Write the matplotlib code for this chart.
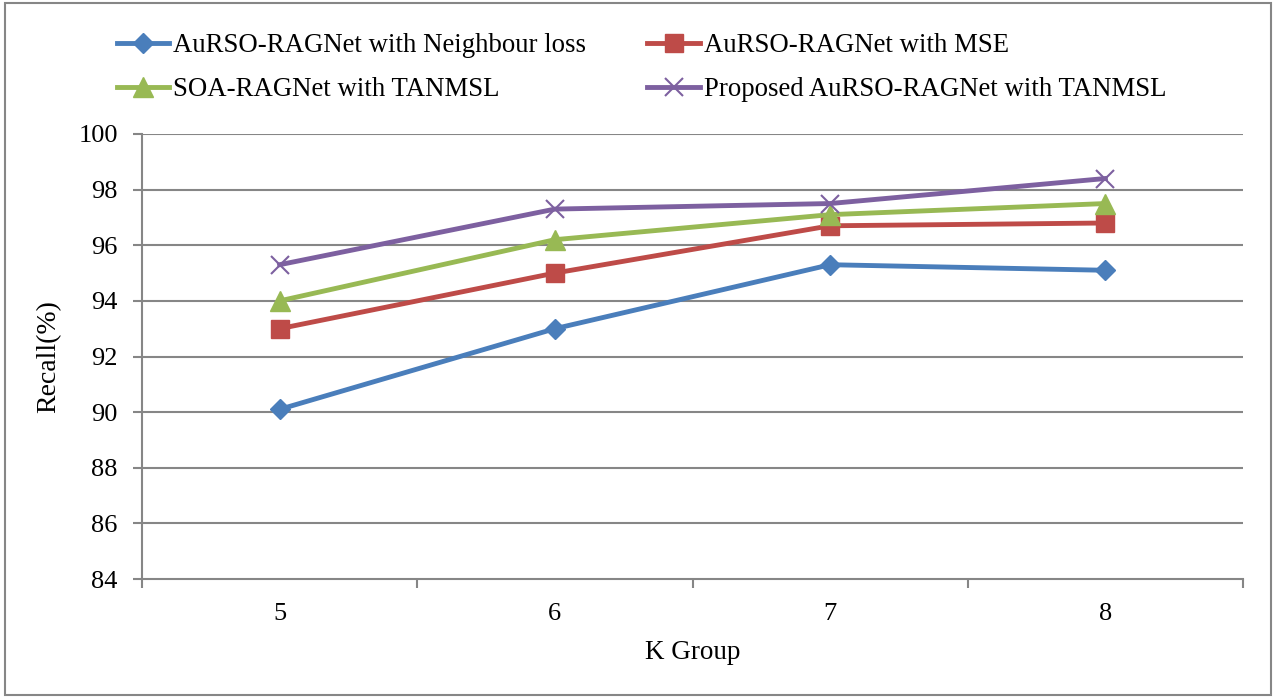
import numpy as np
import matplotlib
matplotlib.use('Agg')
import matplotlib.pyplot as plt
from matplotlib.patches import Rectangle

plt.rcParams['font.family'] = ['Liberation Serif', 'DejaVu Serif']

# data
k_groups = ['5', '6', '7', '8']
neighbour = [90.1, 93.0, 95.3, 95.1]
mse = [93.0, 95.0, 96.7, 96.8]
soa = [94.0, 96.2, 97.1, 97.5]
proposed = [95.3, 97.3, 97.5, 98.4]

labels = ['AuRSO-RAGNet with Neighbour loss', 'AuRSO-RAGNet with MSE',
          'SOA-RAGNet with TANMSL', 'Proposed AuRSO-RAGNet with TANMSL']

fig = plt.figure(figsize=(12.76, 6.98), dpi=100)
ax = fig.add_axes([142 / 1276, 1 - 579 / 698, (1243 - 142) / 1276, (579 - 134) / 698])

x = np.arange(1, len(k_groups) + 1)
grid_c = '#868686'

# grid first so lines sit on top
for yv in np.arange(86, 101, 2):
    ax.axhline(yv, color=grid_c, lw=1.5, zorder=1)

l1, = ax.plot(x, neighbour, color='#4A7EBB', lw=3.5, marker='D', ms=10, label=labels[0], zorder=3)
l2, = ax.plot(x, mse, color='#BE4B48', lw=3.5, marker='s', ms=13, label=labels[1], zorder=3)
l3, = ax.plot(x, soa, color='#98B954', lw=3.5, marker='^', ms=14, label=labels[2], zorder=3)
l4, = ax.plot(x, proposed, color='#7D60A0', lw=3.5, marker='x', ms=13, mew=1.5, label=labels[3], zorder=3)

ax.set_xlim(0.5, 4.5)
ax.set_ylim(84, 100)
ax.set_yticks(np.arange(84, 101, 2))
ax.set_xticks(np.arange(0.5, 4.6, 1))
ax.set_xticklabels([])
ax.set_xticks(x, minor=True)
ax.set_xticklabels(k_groups, minor=True)
ax.tick_params(axis='x', which='minor', length=0, pad=17, labelsize=19)
ax.tick_params(axis='x', which='major', length=6.5, width=1.5, color=grid_c)
ax.tick_params(axis='y', length=6.5, width=1.5, color=grid_c, labelsize=19, pad=11)

for s in ['top', 'right']:
    ax.spines[s].set_visible(False)
for s in ['left', 'bottom']:
    ax.spines[s].set_color(grid_c)
    ax.spines[s].set_linewidth(1.5)

ax.set_xlabel('K Group', fontsize=19.5, labelpad=11)
ax.set_ylabel('Recall(%)', fontsize=20, labelpad=12)

# legend fills column by column, so order gives rows like the original
fig.legend([l1, l3, l2, l4], [labels[0], labels[2], labels[1], labels[3]],
           loc='upper left', bbox_to_anchor=(117 / 1276, 1 - 33 / 698), ncol=2,
           frameon=False, fontsize=19.3, handlelength=1.95, handletextpad=0.15,
           columnspacing=2.28, labelspacing=0.72, borderpad=0, borderaxespad=0)

# outer border of the chart
fig.patches.append(Rectangle((5 / 1276, 3 / 698), 1266 / 1276, 692 / 698,
                             transform=fig.transFigure, fill=False,
                             edgecolor='#868686', lw=1.5))

fig.savefig('out.png', dpi=100)
